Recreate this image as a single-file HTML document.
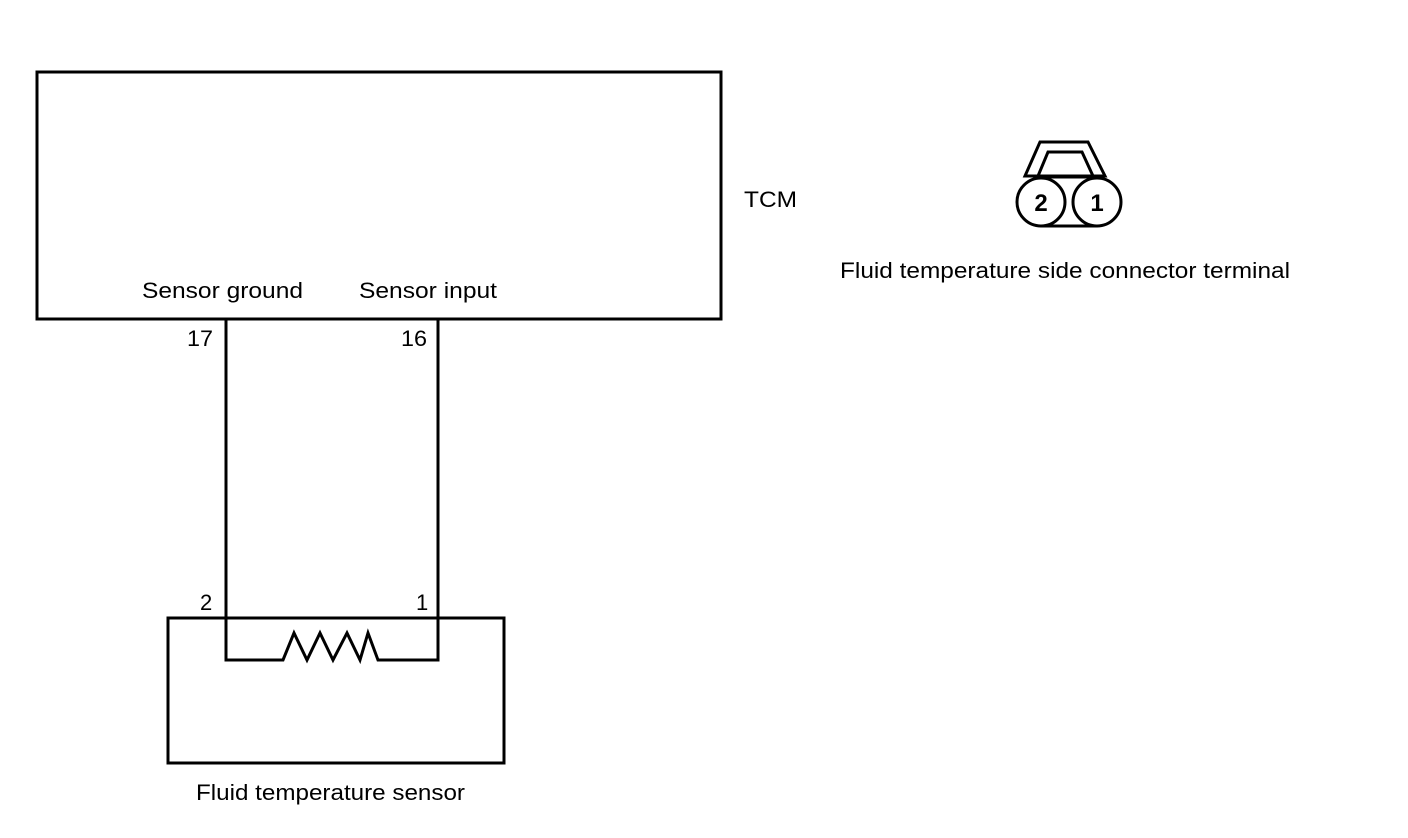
<!DOCTYPE html>
<html><head><style>
html,body{margin:0;padding:0;background:#fff;}
svg{display:block;}
text{font-family:"Liberation Sans",Arial,sans-serif;font-size:22px;fill:#000;}
</style></head><body>
<svg width="1408" height="838" viewBox="0 0 1408 838">
<g fill="none" stroke="#000" stroke-width="3">
<rect x="37" y="72" width="684" height="247"/>
<rect x="168" y="618" width="336" height="145"/>
<polyline points="226,319 226,660 283,660 294,633 307,660 320,633 333,660 347,633 360,660 368,633 378,660 438,660 438,319"/>
<polygon points="1040,142 1088,142 1105,176 1025,176"/>
<polygon points="1048,152 1082,152 1093,176 1038,176"/>
<line x1="1041" y1="177" x2="1097" y2="177"/>
<line x1="1041" y1="226" x2="1097" y2="226"/>
<circle cx="1041" cy="202" r="24" fill="#fff"/>
<circle cx="1097" cy="202" r="24" fill="#fff"/>
</g>
<text x="744" y="207" textLength="53" lengthAdjust="spacingAndGlyphs">TCM</text>
<text x="142" y="298" textLength="161" lengthAdjust="spacingAndGlyphs">Sensor ground</text>
<text x="359" y="298" textLength="138" lengthAdjust="spacingAndGlyphs">Sensor input</text>
<text x="187" y="346" textLength="26" lengthAdjust="spacingAndGlyphs">17</text>
<text x="401" y="346" textLength="26" lengthAdjust="spacingAndGlyphs">16</text>
<text x="200" y="610">2</text>
<text x="416" y="610">1</text>
<text x="196" y="800" textLength="269" lengthAdjust="spacingAndGlyphs">Fluid temperature sensor</text>
<text x="840" y="278" textLength="450" lengthAdjust="spacingAndGlyphs">Fluid temperature side connector terminal</text>
<text x="1041" y="211" text-anchor="middle" style="font-weight:bold;font-size:24px">2</text>
<text x="1097" y="211" text-anchor="middle" style="font-weight:bold;font-size:24px">1</text>
</svg>
</body></html>
